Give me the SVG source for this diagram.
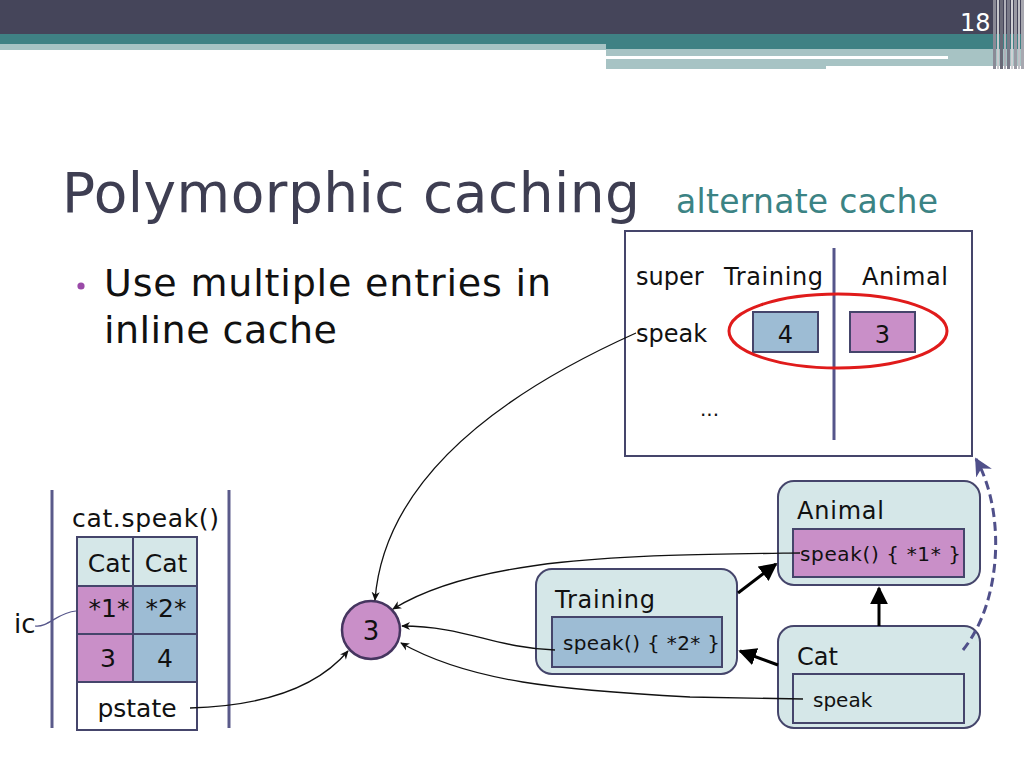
<svg xmlns="http://www.w3.org/2000/svg" width="1024" height="768" viewBox="0 0 1024 768">
<style>
text{font-family:"DejaVu Sans",Verdana,sans-serif;fill:#111}
.node{fill:#d5e7e8;stroke:#45456b;stroke-width:2}
.inner{stroke:#45456b;stroke-width:2}
.pink{fill:#c98fc8}
.blue{fill:#9dbcd4}
.pale{fill:#d5e7e8}
.thin{fill:none;stroke:#111;stroke-width:1.3;marker-end:url(#thinArrow)}
.thick{fill:none;stroke:#000;stroke-width:3;marker-end:url(#thickArrow)}
.lbl{font-size:24px}
.code{font-size:20px}
</style>
<defs>
<marker id="thinArrow" viewBox="0 0 10 10" refX="9" refY="5" markerWidth="9" markerHeight="9" markerUnits="userSpaceOnUse" orient="auto">
<path d="M0,0.5 L10,5 L0,9.5 L3,5 z" fill="#111"/>
</marker>
<marker id="thickArrow" viewBox="0 0 10 10" refX="9" refY="5" markerWidth="6" markerHeight="6" orient="auto">
<path d="M0,0 L10,5 L0,10 z" fill="#000"/>
</marker>
<marker id="dashArrow" viewBox="0 0 10 10" refX="9" refY="5" markerWidth="6" markerHeight="6" orient="auto">
<path d="M0,0 L10,5 L0,10 L3,5 z" fill="#50508a"/>
</marker>
</defs>
<rect width="1024" height="768" fill="#fff"/>
<!-- header -->
<g id="header">
<rect x="0" y="0" width="1024" height="34" fill="#45455a"/>
<rect x="0" y="34" width="1024" height="10" fill="#3f8184"/>
<rect x="0" y="44" width="606" height="6" fill="#a7c3c4"/>
<rect x="606" y="44" width="418" height="5" fill="#3f8184"/>
<rect x="606" y="49" width="418" height="17" fill="#a7c3c4"/>
<rect x="606" y="56" width="342" height="3" fill="#ffffff"/>
<rect x="606" y="66" width="220" height="3" fill="#a7c3c4"/>
<rect x="993" y="0" width="3" height="69" fill="#8a8a96"/>
<rect x="997" y="0" width="2" height="69" fill="#c8c8cc"/>
<rect x="1000" y="0" width="3" height="69" fill="#6a6a78"/>
<rect x="1004" y="0" width="2" height="69" fill="#b0b0b8"/>
<rect x="1007" y="0" width="3" height="69" fill="#7a7a88"/>
<rect x="1011" y="0" width="2" height="69" fill="#d0d0d4"/>
<rect x="1014" y="0" width="3" height="69" fill="#9a9aa4"/>
<rect x="1018" y="0" width="2" height="69" fill="#c0c0c6"/>
<rect x="1021" y="0" width="3" height="69" fill="#a8a8b0"/>
<text x="960" y="31" style="font-size:24px;fill:#fff">18</text>
</g>
<!-- title -->
<text x="62" y="212" style="font-size:55px;fill:#3e3e52" textLength="578" lengthAdjust="spacing">Polymorphic caching</text>
<text x="676" y="213" style="font-size:33px;fill:#3b8384" textLength="262" lengthAdjust="spacing">alternate cache</text>
<circle cx="81" cy="286" r="3.6" fill="#9a4aa8"/>
<text x="104" y="296" style="font-size:38px" textLength="447" lengthAdjust="spacing">Use multiple entries in</text>
<text x="104" y="343" style="font-size:38px" textLength="233" lengthAdjust="spacing">inline cache</text>
<!-- alternate cache box -->
<g id="cache">
<rect x="625" y="231" width="347" height="225" fill="#fff" stroke="#45456b" stroke-width="2"/>
<line x1="834" y1="248" x2="834" y2="440" stroke="#55558a" stroke-width="3"/>
<text x="636" y="285" class="lbl">super</text>
<text x="724" y="285" class="lbl" textLength="99" lengthAdjust="spacing">Training</text>
<text x="862" y="285" class="lbl" textLength="86" lengthAdjust="spacing">Animal</text>
<text x="636" y="342" class="lbl">speak</text>
<rect x="753" y="312" width="65" height="40" class="inner blue"/>
<text x="785.5" y="343" class="lbl" text-anchor="middle">4</text>
<rect x="850" y="312" width="65" height="40" class="inner pink"/>
<text x="882.5" y="343" class="lbl" text-anchor="middle">3</text>
<text x="700" y="416" style="font-size:20px">...</text>
<ellipse cx="838" cy="331" rx="109" ry="37" fill="none" stroke="#e01b1b" stroke-width="3"/>
</g>
<!-- call site table -->
<g id="callsite">
<line x1="52" y1="490" x2="52" y2="728" stroke="#5a5a8a" stroke-width="3"/>
<line x1="229" y1="490" x2="229" y2="728" stroke="#5a5a8a" stroke-width="3"/>
<text x="72" y="527" style="font-size:25px" textLength="147" lengthAdjust="spacing">cat.speak()</text>
<rect x="77" y="537" width="56" height="49" class="inner pale"/>
<rect x="133" y="537" width="64" height="49" class="inner pale"/>
<rect x="77" y="586" width="56" height="48" class="inner pink"/>
<rect x="133" y="586" width="64" height="48" class="inner blue"/>
<rect x="77" y="634" width="56" height="48" class="inner pink"/>
<rect x="133" y="634" width="64" height="48" class="inner blue"/>
<rect x="77" y="682" width="120" height="48" class="inner" fill="#fff"/>
<text x="109" y="572" style="font-size:25px" text-anchor="middle">Cat</text>
<text x="166" y="572" style="font-size:25px" text-anchor="middle">Cat</text>
<text x="109" y="617" style="font-size:25px" text-anchor="middle">*1*</text>
<text x="166" y="617" style="font-size:25px" text-anchor="middle">*2*</text>
<text x="108" y="667" style="font-size:25px" text-anchor="middle">3</text>
<text x="165" y="667" style="font-size:25px" text-anchor="middle">4</text>
<text x="137" y="717" style="font-size:25px" text-anchor="middle">pstate</text>
<text x="14" y="633" style="font-size:26px">ic</text>
<path d="M35,626 C48,628 58,612 76,611" fill="none" stroke="#55558a" stroke-width="1.2"/>
</g>
<!-- result circle -->
<g id="result">
<circle cx="371" cy="630" r="29" fill="#c98fc8" stroke="#45355f" stroke-width="2.5"/>
<text x="371" y="640" style="font-size:26px" text-anchor="middle">3</text>
</g>
<!-- class nodes -->
<g id="animal">
<rect x="778" y="481" width="202" height="104" rx="16" class="node"/>
<text x="797" y="519" class="lbl" textLength="87" lengthAdjust="spacing">Animal</text>
<rect x="793" y="529" width="171" height="48" class="inner pink"/>
<text x="800" y="561" class="code" textLength="161" lengthAdjust="spacing">speak() { *1* }</text>
</g>
<g id="training">
<rect x="536" y="569" width="201" height="105" rx="16" class="node"/>
<text x="555" y="608" class="lbl" textLength="100" lengthAdjust="spacing">Training</text>
<rect x="552" y="617" width="170" height="50" class="inner blue"/>
<text x="563" y="650" class="code" textLength="157" lengthAdjust="spacing">speak() { *2* }</text>
</g>
<g id="cat">
<rect x="778" y="626" width="202" height="102" rx="16" class="node"/>
<text x="797" y="665" class="lbl">Cat</text>
<rect x="793" y="674" width="171" height="49" class="inner pale"/>
<text x="813" y="707" class="code">speak</text>
</g>
<!-- connectors -->
<g id="connectors">
<path class="thin" d="M636,333 C520,385 385,470 375,600"/>
<path class="thin" d="M800,553 C640,555 480,555 393,609"/>
<path class="thin" d="M555,650 C495,648 465,626 402,626"/>
<path class="thin" d="M803,699 L690,697 C560,690 470,682 401,643"/>
<path class="thin" d="M190,708 C260,706 315,690 348,651"/>
<path class="thick" d="M738,593 L776,564"/>
<path class="thick" d="M879,626 L879,588"/>
<path class="thick" d="M778,665 L740,651"/>
<path d="M963,650 C1003,600 1005,510 976,459" fill="none" stroke="#50508a" stroke-width="3" stroke-dasharray="9,5" marker-end="url(#dashArrow)"/>
</g>
</svg>
